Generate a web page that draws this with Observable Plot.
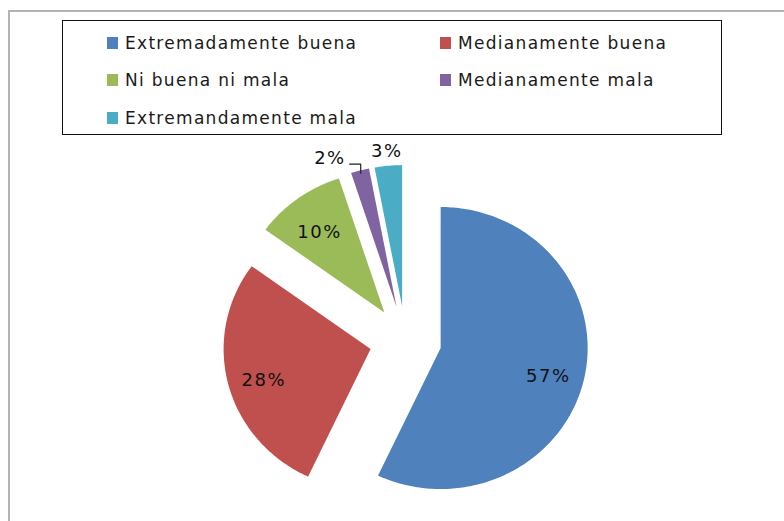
<!DOCTYPE html>
<html>
<head>
<meta charset="utf-8">
<script src="https://cdn.jsdelivr.net/npm/d3@7"></script>
<script src="https://cdn.jsdelivr.net/npm/@observablehq/plot@0.6"></script>
<style>
  html, body { margin: 0; padding: 0; background: #fff; }
  body { width: 784px; height: 521px; position: relative; overflow: hidden; font-family: "DejaVu Sans", sans-serif; }
  #frame { position: absolute; left: 8px; top: 10px; width: 800px; height: 540px; border-top: 2px solid #b3b3b3; border-left: 2px solid #b3b3b3; }
  #legend { position: absolute; left: 62px; top: 20px; width: 658px; height: 113px; border: 1.5px solid #111; background: #fff; }
  .item { position: absolute; display: flex; align-items: center; font-size: 17px; letter-spacing: 1.3px; color: #1a1a1a; white-space: nowrap; }
  .sw { width: 11px; height: 12px; margin-right: 7px; flex: none; }
  #chart { position: absolute; left: 0; top: 135px; }
  #chart text { letter-spacing: 1.5px; }
</style>
</head>
<body>
<div id="frame"></div>
<div id="legend"></div>
<div id="chart"></div>
<script>
// ---- data ----
const categories = ["Extremadamente buena", "Medianamente buena", "Ni buena ni mala", "Medianamente mala", "Extremandamente mala"];
const values = [57, 28, 10, 2, 3];
const labels = ["57%", "28%", "10%", "2%", "3%"];
const colors = ["#4F81BD", "#C0504D", "#9BBB59", "#8064A2", "#4BACC6"];

// ---- legend (HTML, above the SVG) ----
const legend = document.getElementById("legend");
const colX = [44, 377];
const rowY = [22, 59, 97];
categories.forEach((c, i) => {
  const el = document.createElement("div");
  el.className = "item";
  el.style.left = colX[i % 2] + "px";
  el.style.top = (rowY[Math.floor(i / 2)] - 11) + "px";
  el.style.height = "22px";
  const sw = document.createElement("span");
  sw.className = "sw";
  sw.style.background = colors[i];
  el.appendChild(sw);
  el.appendChild(document.createTextNode(c));
  legend.appendChild(el);
});

// ---- pie geometry (unit radius, angles clockwise from top) ----
const W = 784, H = 386;
const CX = 405, CY = 205, RX = 147, RY = 141;
const EXPLODE = 0.245;
const total = d3.sum(values);
let acc = 0;
const slices = values.map((v, i) => {
  const a0 = acc / total * 2 * Math.PI; acc += v;
  const a1 = acc / total * 2 * Math.PI;
  const mid = (a0 + a1) / 2;
  return {i, v, a0, a1, mid, ox: EXPLODE * Math.sin(mid), oy: EXPLODE * Math.cos(mid)};
});
const poly = slices.flatMap(s => {
  const pts = [{k: categories[s.i], x: s.ox, y: s.oy}];
  const n = Math.max(3, Math.ceil((s.a1 - s.a0) / (Math.PI / 180)));
  for (let j = 0; j <= n; j++) {
    const a = s.a0 + (s.a1 - s.a0) * j / n;
    pts.push({k: categories[s.i], x: s.ox + Math.sin(a), y: s.oy + Math.cos(a)});
  }
  return pts;
});

const inside = slices.filter(s => s.v >= 5).map(s => ({
  text: labels[s.i], x: s.ox + 0.75 * Math.sin(s.mid), y: s.oy + 0.75 * Math.cos(s.mid)
}));
const outsidePlain = [];
const leaders = [];
const leaderText = [];
slices.forEach((s, idx) => {
  if (s.v >= 5) return;
  const nextSmall = idx + 1 < slices.length && slices[idx + 1].v < 5;
  if (nextSmall) {
    const p0 = {x: s.ox + 0.98 * Math.sin(s.mid), y: s.oy + 0.98 * Math.cos(s.mid)};
    const p1 = {x: p0.x, y: p0.y + 9 / RY};
    const p2 = {x: p1.x - 11 / RX, y: p1.y};
    leaders.push({g: s.i, ...p0}, {g: s.i, ...p1}, {g: s.i, ...p2});
    leaderText.push({text: labels[s.i], x: p2.x - 4 / RX, y: p2.y + 6 / RY});
  } else {
    outsidePlain.push({text: labels[s.i], x: s.ox + 1.1 * Math.sin(s.mid), y: s.oy + 1.1 * Math.cos(s.mid)});
  }
});

const chart = Plot.plot({
  width: W, height: H, margin: 0,
  style: {background: "transparent", overflow: "visible"},
  x: {domain: [-CX / RX, (W - CX) / RX], axis: null},
  y: {domain: [(CY - H) / RY, CY / RY], axis: null},
  color: {domain: categories, range: colors},
  marks: [
    Plot.line(poly, {x: "x", y: "y", z: "k", fill: "k", stroke: "none", curve: "linear-closed"}),
    Plot.line(leaders, {x: "x", y: "y", z: "g", stroke: "#222", strokeWidth: 1.2}),
    Plot.text(inside, {x: "x", y: "y", text: "text", fontSize: 18, fontFamily: "DejaVu Sans", fill: "#111", dy: 5}),
    Plot.text(outsidePlain, {x: "x", y: "y", text: "text", fontSize: 18, fontFamily: "DejaVu Sans", fill: "#111"}),
    Plot.text(leaderText, {x: "x", y: "y", text: "text", fontSize: 18, fontFamily: "DejaVu Sans", fill: "#111", textAnchor: "end"})
  ]
});
document.getElementById("chart").appendChild(chart);
</script>
</body>
</html>
